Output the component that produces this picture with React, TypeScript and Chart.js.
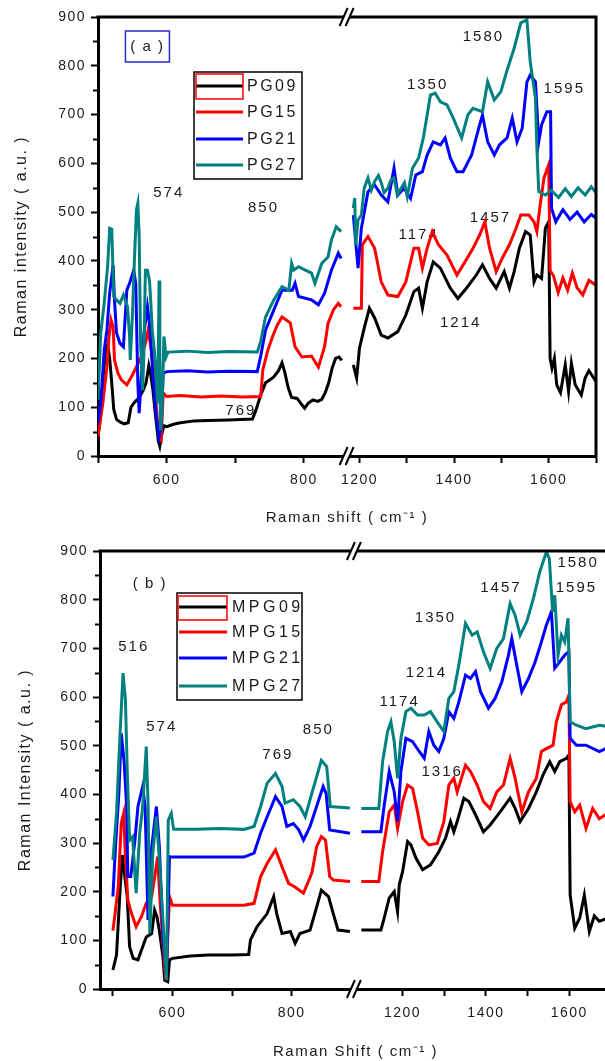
import React, { useEffect, useRef } from 'react';
import { Chart, registerables } from 'chart.js';
Chart.register(...registerables);

const FONT = '"Liberation Sans", Arial, Helvetica, sans-serif';
const TEXT = '#1a1a1a';

// ---------- Panel (a): PG samples, [Raman shift (cm-1), intensity (a.u.)] ----------
const PG09: number[][] = [
  [500,45],[502,60],[505,110],[508,170],[511,215],[514,228],[517,200],[520,150],[523,95],[527,75],[532,70],[538,66],[544,68],[548,100],[553,110],[560,120],[566,135],[570,150],[574,185],[577,165],[580,135],[584,80],[588,30],[590,20],[593,45],[596,62],[600,60],[610,65],[620,68],[640,72],[660,73],[690,74],[725,76],[730,94],[737,125],[744,150],[750,156],[756,162],[763,175],[768,191],[772,172],[777,140],[782,120],[790,118],[797,105],[801,98],[806,108],[813,115],[820,112],[826,116],[831,130],[836,150],[841,180],[846,200],[851,203],[855,196],
  [1187,187],[1194,160],[1200,221],[1210,262],[1221,303],[1232,283],[1246,248],[1260,242],[1281,255],[1298,289],[1315,337],[1325,344],[1333,303],[1343,357],[1356,398],[1371,385],[1392,344],[1408,323],[1426,344],[1447,371],[1460,392],[1475,364],[1489,344],[1506,378],[1517,344],[1527,378],[1538,426],[1551,460],[1561,453],[1569,357],[1575,371],[1585,364],[1593,467],[1600,480],[1603,200],[1607,180],[1612,200],[1617,146],[1625,130],[1635,187],[1642,132],[1648,190],[1656,146],[1663,135],[1669,125],[1677,160],[1685,175],[1700,153],
];
const PG15: number[][] = [
  [500,40],[507,108],[513,183],[516,245],[519,279],[522,265],[524,197],[529,170],[534,156],[542,146],[549,163],[556,183],[563,203],[569,231],[573,258],[577,224],[582,163],[586,80],[589,39],[592,33],[595,129],[600,122],[620,124],[650,121],[680,123],[710,121],[737,122],[740,176],[747,215],[754,244],[761,268],[768,285],[780,273],[787,224],[797,203],[811,205],[821,182],[830,224],[835,272],[843,300],[850,313],[854,306],
  [1187,303],[1204,303],[1206,433],[1218,450],[1232,426],[1246,357],[1260,330],[1281,327],[1298,357],[1315,426],[1325,426],[1333,385],[1343,426],[1354,460],[1367,433],[1385,412],[1406,371],[1423,398],[1440,426],[1454,453],[1465,480],[1475,426],[1489,378],[1502,406],[1517,433],[1531,467],[1541,494],[1558,494],[1569,480],[1575,460],[1582,515],[1590,570],[1600,597],[1603,380],[1610,370],[1620,335],[1630,365],[1640,340],[1650,375],[1660,345],[1672,330],[1685,360],[1700,350],
];
const PG21: number[][] = [
  [500,68],[504,108],[509,217],[513,258],[517,334],[522,391],[524,320],[527,252],[532,231],[537,224],[542,340],[546,354],[552,381],[555,354],[558,149],[560,88],[563,163],[567,252],[572,306],[576,258],[580,163],[585,80],[589,39],[592,60],[595,170],[600,173],[630,175],[660,172],[690,174],[732,173],[737,205],[744,258],[756,299],[768,340],[783,340],[787,354],[792,327],[811,320],[821,310],[830,334],[840,381],[850,416],[854,405],
  [1187,494],[1197,385],[1204,467],[1218,542],[1232,556],[1246,535],[1260,521],[1273,590],[1281,535],[1294,549],[1308,528],[1319,576],[1333,583],[1343,617],[1356,644],[1371,638],[1381,652],[1392,611],[1406,583],[1419,583],[1437,617],[1454,679],[1460,699],[1471,644],[1485,617],[1496,638],[1512,652],[1523,693],[1533,644],[1544,672],[1554,767],[1561,781],[1572,767],[1579,644],[1585,679],[1596,706],[1604,706],[1606,508],[1615,480],[1630,505],[1645,485],[1660,500],[1675,480],[1690,495],[1700,488],
];
const PG27: number[][] = [
  [500,115],[504,252],[509,313],[514,388],[517,467],[520,465],[523,327],[527,320],[532,313],[537,330],[543,306],[546,245],[547,197],[550,285],[553,400],[556,505],[558,518],[560,450],[562,231],[565,135],[567,219],[569,381],[572,381],[575,360],[577,313],[579,258],[582,217],[584,176],[587,108],[589,360],[590,200],[591,53],[593,80],[596,245],[599,203],[602,213],[630,215],[660,212],[690,214],[732,213],[737,235],[744,285],[756,320],[768,347],[778,340],[782,395],[785,381],[792,388],[802,381],[811,375],[816,354],[826,395],[835,408],[840,443],[847,470],[854,460],
  [1187,508],[1190,529],[1192,432],[1197,484],[1204,494],[1210,549],[1218,570],[1225,545],[1232,563],[1240,575],[1246,560],[1252,540],[1260,549],[1266,565],[1273,570],[1280,535],[1288,549],[1295,560],[1301,532],[1312,590],[1325,611],[1335,652],[1350,740],[1360,744],[1371,726],[1385,720],[1398,693],[1416,652],[1429,699],[1440,713],[1460,706],[1471,767],[1485,730],[1499,747],[1512,791],[1527,836],[1541,888],[1554,894],[1561,808],[1572,734],[1575,631],[1579,542],[1593,535],[1605,545],[1621,530],[1635,548],[1648,532],[1662,550],[1677,535],[1690,552],[1700,540],
];

// ---------- Panel (b): MPG samples ----------
const MPG09: number[][] = [
  [500,39],[506,70],[512,203],[516,275],[520,231],[524,190],[528,87],[534,63],[542,60],[550,87],[556,107],[565,114],[570,162],[574,148],[578,120],[584,66],[587,18],[592,15],[595,60],[600,63],[630,68],[660,70],[700,70],[728,71],[731,101],[742,128],[759,155],[770,190],[775,155],[784,114],[798,118],[806,94],[814,114],[831,121],[839,155],[850,203],[862,190],[870,155],[878,121],[898,118],
  [1101,121],[1148,121],[1156,146],[1168,187],[1180,200],[1188,159],[1192,214],[1200,241],[1212,303],[1220,296],[1232,269],[1248,245],[1267,255],[1287,282],[1303,310],[1315,344],[1323,323],[1331,344],[1347,392],[1359,385],[1375,358],[1394,323],[1410,337],[1434,364],[1458,392],[1470,371],[1482,344],[1502,371],[1521,405],[1537,440],[1553,467],[1565,447],[1577,467],[1593,474],[1599,481],[1602,193],[1613,125],[1625,146],[1636,193],[1648,118],[1660,150],[1672,139],[1690,145],
];
const MPG15: number[][] = [
  [500,120],[503,149],[509,210],[514,341],[518,361],[521,272],[525,183],[531,156],[539,128],[548,149],[556,176],[565,190],[572,245],[575,272],[579,183],[584,94],[589,18],[595,190],[600,172],[640,172],[680,172],[720,172],[737,176],[748,231],[759,258],[773,286],[784,251],[795,217],[805,210],[820,197],[834,238],[842,292],[850,313],[857,306],[864,231],[870,224],[898,221],
  [1101,221],[1143,221],[1152,282],[1168,364],[1180,378],[1188,330],[1200,385],[1212,419],[1224,412],[1236,364],[1248,310],[1263,296],[1283,299],[1299,344],[1311,419],[1323,433],[1331,405],[1351,460],[1363,447],[1379,419],[1394,385],[1410,371],[1426,405],[1442,419],[1458,474],[1470,433],[1486,364],[1502,405],[1521,433],[1533,488],[1545,494],[1561,501],[1569,549],[1581,584],[1593,590],[1599,604],[1602,385],[1613,364],[1625,378],[1640,330],[1656,371],[1672,350],[1690,360],
];
const MPG21: number[][] = [
  [500,190],[504,286],[510,402],[514,525],[519,464],[523,375],[525,231],[530,231],[537,306],[542,375],[550,416],[554,375],[559,142],[564,279],[573,375],[578,293],[584,107],[590,25],[595,272],[600,271],[640,271],[680,271],[720,271],[737,279],[748,320],[759,354],[773,395],[784,375],[792,334],[803,340],[812,327],[820,306],[831,334],[842,375],[853,416],[858,402],[864,327],[898,320],
  [1101,323],[1148,323],[1156,378],[1168,447],[1180,405],[1188,344],[1196,447],[1208,515],[1224,508],[1240,488],[1252,474],[1263,529],[1275,501],[1287,488],[1299,515],[1311,570],[1323,556],[1335,590],[1351,645],[1363,638],[1375,652],[1387,611],[1406,577],[1422,597],[1438,631],[1454,686],[1462,720],[1474,665],[1486,611],[1502,638],[1518,672],[1533,713],[1545,748],[1557,775],[1565,659],[1577,672],[1589,686],[1599,693],[1602,515],[1617,501],[1640,501],[1672,488],[1690,495],
];
const MPG27: number[][] = [
  [500,265],[506,361],[512,525],[517,649],[521,594],[524,450],[528,306],[533,313],[539,197],[545,320],[550,375],[556,498],[559,382],[562,114],[567,279],[573,354],[578,265],[584,142],[590,18],[593,347],[598,361],[602,328],[640,328],[680,330],[720,328],[737,334],[748,375],[759,423],[773,443],[784,416],[789,382],[803,389],[814,375],[823,354],[834,402],[842,436],[850,470],[859,457],[865,375],[898,372],
  [1101,371],[1143,371],[1152,467],[1164,529],[1172,549],[1180,508],[1188,433],[1196,515],[1208,570],[1220,577],[1236,563],[1252,563],[1267,570],[1283,549],[1299,529],[1311,597],[1323,611],[1335,666],[1351,751],[1367,727],[1379,734],[1394,693],[1410,659],[1426,700],[1442,720],[1458,792],[1470,768],[1482,727],[1498,755],[1514,803],[1529,857],[1545,898],[1552,885],[1560,775],[1565,809],[1573,686],[1581,727],[1589,713],[1597,762],[1602,549],[1617,542],[1640,535],[1672,542],[1690,540],
];

const NAMES_A = ['PG09', 'PG15', 'PG21', 'PG27'];
const NAMES_B = ['MPG09', 'MPG15', 'MPG21', 'MPG27'];
const COLORS = ['#000000', '#ff0000', '#0000ff', '#008080'];
const X_TICKS = [500, 600, 700, 800, 1200, 1300, 1400, 1500, 1600, 1700];
const X_LABELS = [600, 800, 1200, 1400, 1600];
const Y_MAX = 900;

// peak labels: [text, shift, intensity]
const NOTES_A: [string, number, number][] = [
  ['574', 603, 539], ['850', 741, 508], ['769', 708, 92], ['1174', 1325, 453], ['1214', 1414, 273],
  ['1350', 1344, 760], ['1457', 1477, 488], ['1580', 1462, 859], ['1595', 1633, 752],
];
const NOTES_B: [string, number, number][] = [
  ['516', 535, 703], ['574', 582, 538], ['769', 777, 481], ['850', 845, 532], ['1174', 1193, 590],
  ['1214', 1257, 649], ['1350', 1279, 762], ['1457', 1436, 824], ['1580', 1621, 875], ['1595', 1617, 824],
  ['1316', 1295, 446],
];

type Brk = { lo: number; hi: number; k: number };
const toV = (x: number, b: Brk) => (x <= b.lo ? x : b.lo + (x - b.hi) * b.k);
const fromV = (v: number, b: Brk) => (v <= b.lo + 1e-6 ? v : b.hi + (v - b.lo) / b.k);

function buildData(pts: number[][], b: Brk) {
  const out: any[] = [];
  let prev: number | null = null;
  for (const [x, y] of pts) {
    if (prev !== null && prev <= b.lo && x >= b.hi) out.push({ x: b.lo, y: null });
    out.push({ x: toV(x, b), y });
    prev = x;
  }
  return out;
}

function drawText(ctx: any, s: string, x: number, y: number, size: number, spacing: number, align = 'center', color = TEXT) {
  ctx.save();
  ctx.font = `${size}px ${FONT}`;
  ctx.letterSpacing = `${spacing}px`;
  ctx.fillStyle = color;
  ctx.textAlign = align;
  ctx.textBaseline = 'middle';
  ctx.fillText(s, x, y);
  ctx.restore();
}

const PANELS = [
  {
    top: 0, width: 605, height: 530,
    names: NAMES_A, series: [PG09, PG15, PG21, PG27],
    brk: { lo: 865, hi: 1177, k: 0.689 }, xMin: 500,
    pad: { top: 17, right: 2 }, yAxisWidth: 98, xAxisHeight: 74,
    yTitle: 'Raman intensity ( a.u. )', xTitle: 'Raman shift ( cm\u207B\u00B9 )',
    yTitlePad: 12, xTitlePad: 3,
    notes: NOTES_A,
    tag: { text: '( a )', x: 572, y: 839.5, boxed: true },
    legend: { x: 194, y: 72, w: 108, h: 107, rows: [86, 112, 139, 165], l0: 196, l1: 243, tx: 247, sp: 2.5, hl: [196, 74, 47, 25] },
  },
  {
    top: 530, width: 620, height: 531,
    names: NAMES_B, series: [MPG09, MPG15, MPG21, MPG27],
    brk: { lo: 908, hi: 1088, k: 0.7 }, xMin: 478.3,
    pad: { top: 21, right: 5 }, yAxisWidth: 100, xAxisHeight: 72,
    yTitle: 'Raman Intensity ( a.u. )', xTitle: 'Raman Shift ( cm\u207B\u00B9 )',
    yTitlePad: 16, xTitlePad: 0,
    notes: NOTES_B,
    tag: { text: '( b )', x: 562, y: 832, boxed: false },
    legend: { x: 177, y: 63, w: 125, h: 107, rows: [77, 102, 128, 156], l0: 179, l1: 227, tx: 232, sp: 3.5, hl: [178, 66, 49, 24] },
  },
];

function Panel({ cfg }: { cfg: any }) {
  const ref = useRef<HTMLCanvasElement>(null);
  useEffect(() => {
    const b: Brk = cfg.brk;
    const xMax = toV(1700, b);
    const tickFont = { family: FONT, size: 14 };
    const deco = {
      id: 'deco',
      beforeDraw(chart: any) {
        chart.ctx.letterSpacing = '1.5px';
      },
      beforeDatasetsDraw(chart: any) {
        const ctx = chart.ctx;
        const xs = chart.scales.x, ys = chart.scales.y;
        for (const [t, x, y] of cfg.notes) {
          drawText(ctx, t, xs.getPixelForValue(toV(x, b)), ys.getPixelForValue(y), 15, 2);
        }
        const tx = xs.getPixelForValue(toV(cfg.tag.x, b));
        const ty = ys.getPixelForValue(cfg.tag.y);
        drawText(ctx, cfg.tag.text, tx, ty, 15, 1.5);
        if (cfg.tag.boxed) {
          ctx.save();
          ctx.strokeStyle = '#2b2bc8';
          ctx.lineWidth = 1.5;
          ctx.strokeRect(tx - 22, ty - 15.5, 44, 31);
          ctx.restore();
        }
      },
      afterDraw(chart: any) {
        const ctx = chart.ctx;
        const { left, right, top, bottom } = chart.chartArea;
        const xs = chart.scales.x, ys = chart.scales.y;
        ctx.save();
        ctx.strokeStyle = '#000';
        ctx.lineCap = 'butt';
        // frame top and right
        ctx.lineWidth = 3;
        ctx.beginPath();
        ctx.moveTo(left - 1.5, top);
        ctx.lineTo(right, top);
        ctx.lineTo(right, bottom + 1.5);
        ctx.stroke();
        // minor y ticks
        ctx.lineWidth = 2;
        for (let v = 50; v < Y_MAX; v += 100) {
          const py = Math.round(ys.getPixelForValue(v)) + 0.5;
          ctx.beginPath();
          ctx.moveTo(left - 5, py);
          ctx.lineTo(left, py);
          ctx.stroke();
        }
        // axis break marks
        const bx = xs.getPixelForValue(b.lo);
        for (const y of [top, bottom]) {
          ctx.fillStyle = '#fff';
          ctx.beginPath();
          ctx.moveTo(bx - 8, y + 8);
          ctx.lineTo(bx - 1, y - 8);
          ctx.lineTo(bx + 4, y - 8);
          ctx.lineTo(bx - 3, y + 8);
          ctx.closePath();
          ctx.fill();
          ctx.lineWidth = 2;
          ctx.beginPath();
          ctx.moveTo(bx - 9, y + 9);
          ctx.lineTo(bx - 1, y - 9);
          ctx.moveTo(bx - 3, y + 9);
          ctx.lineTo(bx + 5, y - 9);
          ctx.stroke();
        }
        // legend
        const L = cfg.legend;
        ctx.fillStyle = '#fff';
        ctx.fillRect(L.x, L.y, L.w, L.h);
        ctx.lineWidth = 1.5;
        ctx.strokeStyle = '#000';
        ctx.strokeRect(L.x, L.y, L.w, L.h);
        cfg.names.forEach((n: string, i: number) => {
          const y = L.rows[i];
          ctx.strokeStyle = COLORS[i];
          ctx.lineWidth = 3;
          ctx.beginPath();
          ctx.moveTo(L.l0, y);
          ctx.lineTo(L.l1, y);
          ctx.stroke();
          drawText(ctx, n, L.tx, y + 1, 16, L.sp, 'left');
        });
        ctx.strokeStyle = '#ff0000';
        ctx.lineWidth = 1.5;
        ctx.strokeRect(L.hl[0], L.hl[1], L.hl[2], L.hl[3]);
        ctx.restore();
      },
    };

    const chart = new Chart(ref.current as HTMLCanvasElement, {
      type: 'line',
      data: {
        datasets: cfg.series.map((s: number[][], i: number) => ({
          label: cfg.names[i],
          data: buildData(s, b),
          borderColor: COLORS[i],
          backgroundColor: COLORS[i],
          borderWidth: 3,
          pointRadius: 0,
          fill: false,
          spanGaps: false,
          tension: 0,
          order: 4 - i,
        })),
      },
      options: {
        animation: false,
        responsive: false,
        events: [],
        layout: { padding: { top: cfg.pad.top, right: cfg.pad.right, left: 0, bottom: 0 } },
        plugins: { legend: { display: false }, tooltip: { enabled: false } },
        scales: {
          x: {
            type: 'linear',
            min: cfg.xMin,
            max: xMax,
            afterBuildTicks: (s: any) => {
              s.ticks = X_TICKS.map((t) => ({ value: toV(t, b) }));
            },
            afterFit: (s: any) => { s.height = cfg.xAxisHeight; },
            ticks: {
              autoSkip: false,
              maxRotation: 0,
              padding: 9,
              color: TEXT,
              font: tickFont,
              callback: (v: any) => {
                const r = Math.round(fromV(Number(v), b));
                return X_LABELS.includes(r) ? String(r) : '';
              },
            },
            grid: { drawOnChartArea: false, drawTicks: true, tickLength: 7, tickWidth: 2, tickColor: '#000' },
            border: { display: true, color: '#000', width: 3 },
            title: {
              display: true, text: cfg.xTitle, color: TEXT,
              font: { family: FONT, size: 15 }, padding: { top: 0, bottom: cfg.xTitlePad },
            },
          },
          y: {
            min: 0,
            max: Y_MAX,
            afterFit: (s: any) => { s.width = cfg.yAxisWidth; },
            ticks: { stepSize: 100, padding: 5, color: TEXT, font: tickFont },
            grid: { drawOnChartArea: false, drawTicks: true, tickLength: 7, tickWidth: 2, tickColor: '#000' },
            border: { display: true, color: '#000', width: 3 },
            title: {
              display: true, text: cfg.yTitle, color: TEXT,
              font: { family: FONT, size: 16 }, padding: { top: cfg.yTitlePad, bottom: 0 },
            },
          },
        },
      } as any,
      plugins: [deco],
    });
    return () => chart.destroy();
  }, []);
  return (
    <canvas
      ref={ref}
      width={cfg.width}
      height={cfg.height}
      style={{ position: 'absolute', left: 0, top: cfg.top, width: cfg.width, height: cfg.height }}
    />
  );
}

export default function App() {
  return (
    <div style={{ position: 'absolute', left: 0, top: 0, width: 605, height: 1061, overflow: 'hidden', background: '#fff' }}>
      {PANELS.map((p, i) => (
        <Panel key={i} cfg={p} />
      ))}
    </div>
  );
}
